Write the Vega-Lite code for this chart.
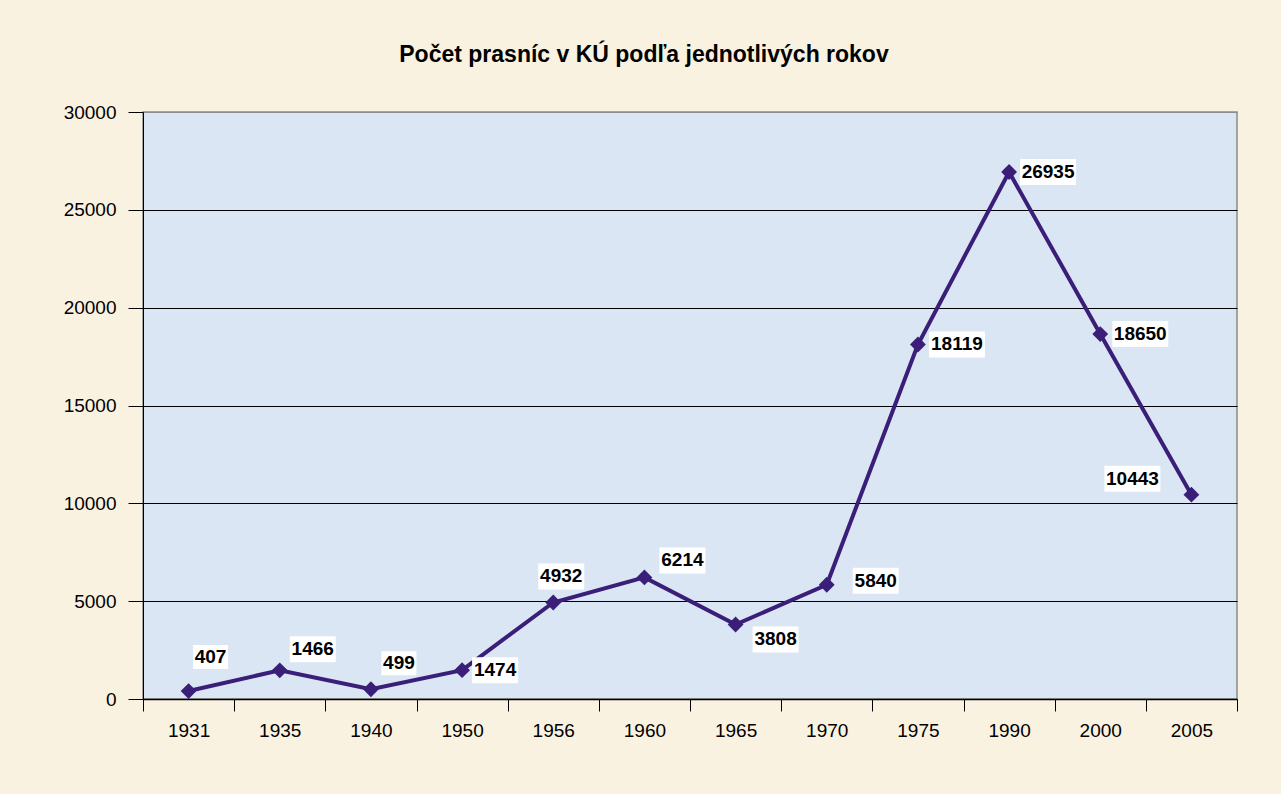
{
  "$schema": "https://vega.github.io/schema/vega-lite/v6.json",
  "width": 1094,
  "height": 587,
  "autosize": {"type": "none"},
  "padding": {"left": 143, "top": 112, "right": 44, "bottom": 95},
  "background": "#FAF2E0",
  "config": {
    "font": "Liberation Sans",
    "view": {"fill": "#DAE6F3", "stroke": "#8C8C8C", "strokeWidth": 1.5}
  },
  "title": {
    "text": "Počet prasníc v KÚ podľa jednotlivých rokov",
    "font": "Liberation Sans",
    "fontSize": 23,
    "fontWeight": "bold",
    "color": "#000000",
    "anchor": "middle",
    "dx": -46,
    "baseline": "alphabetic",
    "offset": 18
  },
  "data": {
    "values": [
      {"year": "1931", "count": 407},
      {"year": "1935", "count": 1466},
      {"year": "1940", "count": 499},
      {"year": "1950", "count": 1474},
      {"year": "1956", "count": 4932},
      {"year": "1960", "count": 6214},
      {"year": "1965", "count": 3808},
      {"year": "1970", "count": 5840},
      {"year": "1975", "count": 18119},
      {"year": "1990", "count": 26935},
      {"year": "2000", "count": 18650},
      {"year": "2005", "count": 10443}
    ]
  },
  "encoding": {
    "x": {
      "field": "year",
      "type": "ordinal",
      "sort": null,
      "scale": {"type": "band", "paddingInner": 0, "paddingOuter": 0},
      "axis": {
        "title": null,
        "labelAngle": 0,
        "tickBand": "extent",
        "tickSize": 12,
        "tickColor": "#000000",
        "domainColor": "#000000",
        "domainWidth": 1.5,
        "labelFontSize": 19,
        "labelColor": "#000000",
        "labelPadding": 10,
        "grid": false
      }
    },
    "y": {
      "field": "count",
      "type": "quantitative",
      "scale": {"domain": [0, 30000], "nice": false},
      "axis": {
        "title": null,
        "values": [0, 5000, 10000, 15000, 20000, 25000, 30000],
        "format": "d",
        "tickSize": 15,
        "tickColor": "#000000",
        "domainColor": "#000000",
        "labelFontSize": 19,
        "labelColor": "#000000",
        "labelPadding": 12,
        "grid": true,
        "gridColor": {"condition": {"test": "datum.value == 30000", "value": "#8C8C8C"}, "value": "#000000"},
        "gridWidth": 1.2,
        "gridOpacity": 1
      }
    }
  },
  "layer": [
    {
      "mark": {
        "type": "line",
        "color": "#3A1E78",
        "strokeWidth": 4,
        "point": {"shape": "diamond", "size": 250, "filled": true, "color": "#3A1E78", "opacity": 1}
      }
    },
    {
      "transform": [{"filter": "datum.year == '1931'"}],
      "layer": [
        {"mark": {"type": "point", "shape": "M 4.5 -46 H 39.5 V -22 H 4.5 Z", "size": 4, "filled": true, "fill": "#FFFFFF", "strokeWidth": 0, "opacity": 1}},
        {"mark": {"type": "text", "dx": 22, "dy": -34, "fontSize": 19, "fontWeight": "bold", "align": "center", "baseline": "middle", "color": "#000000"}, "encoding": {"text": {"field": "count", "type": "quantitative", "format": "d"}}}
      ]
    },
    {
      "transform": [{"filter": "datum.year == '1935'"}],
      "layer": [
        {"mark": {"type": "point", "shape": "M 10 -34 H 56 V -8 H 10 Z", "size": 4, "filled": true, "fill": "#FFFFFF", "strokeWidth": 0, "opacity": 1}},
        {"mark": {"type": "text", "dx": 33, "dy": -21, "fontSize": 19, "fontWeight": "bold", "align": "center", "baseline": "middle", "color": "#000000"}, "encoding": {"text": {"field": "count", "type": "quantitative", "format": "d"}}}
      ]
    },
    {
      "transform": [{"filter": "datum.year == '1940'"}],
      "layer": [
        {"mark": {"type": "point", "shape": "M 10.5 -38 H 45.5 V -14 H 10.5 Z", "size": 4, "filled": true, "fill": "#FFFFFF", "strokeWidth": 0, "opacity": 1}},
        {"mark": {"type": "text", "dx": 28, "dy": -26, "fontSize": 19, "fontWeight": "bold", "align": "center", "baseline": "middle", "color": "#000000"}, "encoding": {"text": {"field": "count", "type": "quantitative", "format": "d"}}}
      ]
    },
    {
      "transform": [{"filter": "datum.year == '1950'"}],
      "layer": [
        {"mark": {"type": "point", "shape": "M 10 -13 H 56 V 13 H 10 Z", "size": 4, "filled": true, "fill": "#FFFFFF", "strokeWidth": 0, "opacity": 1}},
        {"mark": {"type": "text", "dx": 33, "dy": 0, "fontSize": 19, "fontWeight": "bold", "align": "center", "baseline": "middle", "color": "#000000"}, "encoding": {"text": {"field": "count", "type": "quantitative", "format": "d"}}}
      ]
    },
    {
      "transform": [{"filter": "datum.year == '1956'"}],
      "layer": [
        {"mark": {"type": "point", "shape": "M -15 -39 H 31 V -13 H -15 Z", "size": 4, "filled": true, "fill": "#FFFFFF", "strokeWidth": 0, "opacity": 1}},
        {"mark": {"type": "text", "dx": 8, "dy": -26, "fontSize": 19, "fontWeight": "bold", "align": "center", "baseline": "middle", "color": "#000000"}, "encoding": {"text": {"field": "count", "type": "quantitative", "format": "d"}}}
      ]
    },
    {
      "transform": [{"filter": "datum.year == '1960'"}],
      "layer": [
        {"mark": {"type": "point", "shape": "M 15 -30 H 61 V -4 H 15 Z", "size": 4, "filled": true, "fill": "#FFFFFF", "strokeWidth": 0, "opacity": 1}},
        {"mark": {"type": "text", "dx": 38, "dy": -17, "fontSize": 19, "fontWeight": "bold", "align": "center", "baseline": "middle", "color": "#000000"}, "encoding": {"text": {"field": "count", "type": "quantitative", "format": "d"}}}
      ]
    },
    {
      "transform": [{"filter": "datum.year == '1965'"}],
      "layer": [
        {"mark": {"type": "point", "shape": "M 17 2 H 63 V 28 H 17 Z", "size": 4, "filled": true, "fill": "#FFFFFF", "strokeWidth": 0, "opacity": 1}},
        {"mark": {"type": "text", "dx": 40, "dy": 15, "fontSize": 19, "fontWeight": "bold", "align": "center", "baseline": "middle", "color": "#000000"}, "encoding": {"text": {"field": "count", "type": "quantitative", "format": "d"}}}
      ]
    },
    {
      "transform": [{"filter": "datum.year == '1970'"}],
      "layer": [
        {"mark": {"type": "point", "shape": "M 26 -17 H 72 V 9 H 26 Z", "size": 4, "filled": true, "fill": "#FFFFFF", "strokeWidth": 0, "opacity": 1}},
        {"mark": {"type": "text", "dx": 49, "dy": -4, "fontSize": 19, "fontWeight": "bold", "align": "center", "baseline": "middle", "color": "#000000"}, "encoding": {"text": {"field": "count", "type": "quantitative", "format": "d"}}}
      ]
    },
    {
      "transform": [{"filter": "datum.year == '1975'"}],
      "layer": [
        {"mark": {"type": "point", "shape": "M 11 -13 H 67 V 13 H 11 Z", "size": 4, "filled": true, "fill": "#FFFFFF", "strokeWidth": 0, "opacity": 1}},
        {"mark": {"type": "text", "dx": 39, "dy": 0, "fontSize": 19, "fontWeight": "bold", "align": "center", "baseline": "middle", "color": "#000000"}, "encoding": {"text": {"field": "count", "type": "quantitative", "format": "d"}}}
      ]
    },
    {
      "transform": [{"filter": "datum.year == '1990'"}],
      "layer": [
        {"mark": {"type": "point", "shape": "M 11 -13 H 67 V 13 H 11 Z", "size": 4, "filled": true, "fill": "#FFFFFF", "strokeWidth": 0, "opacity": 1}},
        {"mark": {"type": "text", "dx": 39, "dy": 0, "fontSize": 19, "fontWeight": "bold", "align": "center", "baseline": "middle", "color": "#000000"}, "encoding": {"text": {"field": "count", "type": "quantitative", "format": "d"}}}
      ]
    },
    {
      "transform": [{"filter": "datum.year == '2000'"}],
      "layer": [
        {"mark": {"type": "point", "shape": "M 12 -13 H 68 V 13 H 12 Z", "size": 4, "filled": true, "fill": "#FFFFFF", "strokeWidth": 0, "opacity": 1}},
        {"mark": {"type": "text", "dx": 40, "dy": 0, "fontSize": 19, "fontWeight": "bold", "align": "center", "baseline": "middle", "color": "#000000"}, "encoding": {"text": {"field": "count", "type": "quantitative", "format": "d"}}}
      ]
    },
    {
      "transform": [{"filter": "datum.year == '2005'"}],
      "layer": [
        {"mark": {"type": "point", "shape": "M -87 -29 H -31 V -3 H -87 Z", "size": 4, "filled": true, "fill": "#FFFFFF", "strokeWidth": 0, "opacity": 1}},
        {"mark": {"type": "text", "dx": -59, "dy": -16, "fontSize": 19, "fontWeight": "bold", "align": "center", "baseline": "middle", "color": "#000000"}, "encoding": {"text": {"field": "count", "type": "quantitative", "format": "d"}}}
      ]
    }
  ]
}
